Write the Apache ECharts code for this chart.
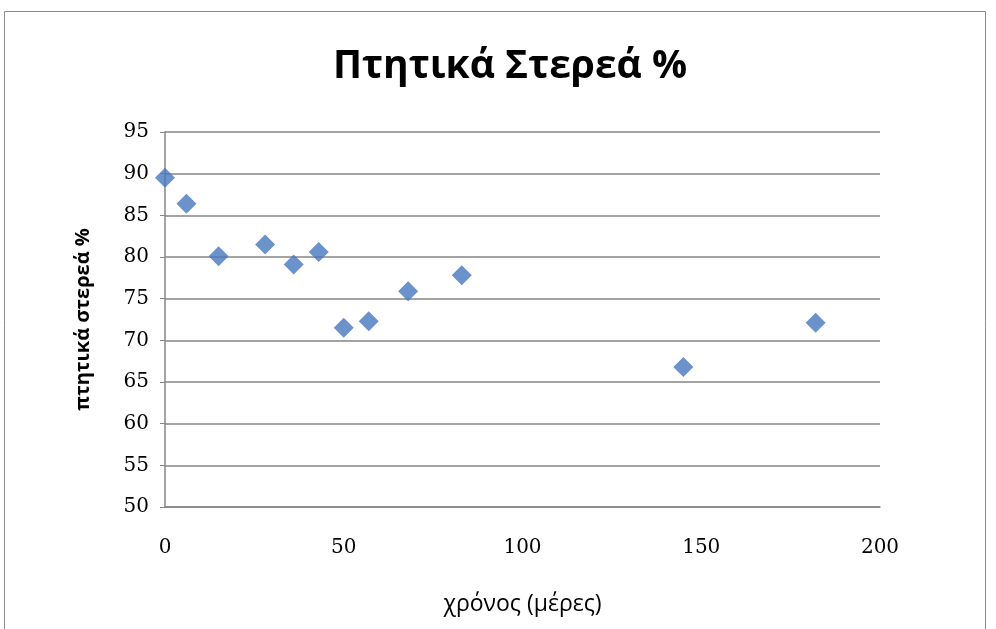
<!DOCTYPE html>
<html>
<head>
<meta charset="utf-8">
<script src="https://cdn.jsdelivr.net/npm/echarts@6/dist/echarts.min.js"></script>
<style>
html,body{margin:0;padding:0;background:#fff;}
#chart{width:996px;height:629px;}
</style>
</head>
<body>
<div id="chart"></div>
<script>
// Data
const days = [0, 6, 15, 28, 36, 43, 50, 57, 68, 83, 145, 182];
const volatileSolids = [89.5, 86.4, 80.1, 81.5, 79.1, 80.6, 71.5, 72.3, 75.9, 77.8, 66.8, 72.1];
const titleText = 'Πτητικά Στερεά %';
const xAxisName = 'χρόνος (μέρες)';
const yAxisName = 'πτητικά στερεά %';

const points = days.map((d, i) => [d, volatileSolids[i]]);

const chart = echarts.init(document.getElementById('chart'));
chart.setOption({
  backgroundColor: '#ffffff',
  animation: false,
  title: {
    text: titleText,
    left: 328,
    top: 42,
    padding: 5,
    textStyle: {
      fontFamily: '"Open Sans", sans-serif',
      fontWeight: 'bold',
      fontSize: 39,
      color: '#000'
    }
  },
  graphic: [{
    type: 'rect',
    shape: { x: 4.5, y: 11.5, width: 981, height: 640 },
    style: { fill: 'none', stroke: '#8c8c8c', lineWidth: 1 },
    silent: true
  }],
  grid: { left: 165, right: 116, top: 132, bottom: 122 },
  xAxis: {
    type: 'value',
    min: 0, max: 200, interval: 50,
    name: xAxisName,
    nameLocation: 'middle',
    nameGap: 86,
    nameTextStyle: { fontFamily: '"Open Sans", sans-serif', fontSize: 23, color: '#000' },
    axisLine: { show: true, lineStyle: { color: '#868686', width: 1.5 } },
    axisTick: { show: false },
    splitLine: { show: false },
    axisLabel: { fontFamily: '"DejaVu Serif", "Liberation Serif", serif', fontSize: 20, color: '#000', margin: 31 }
  },
  yAxis: {
    type: 'value',
    min: 50, max: 95, interval: 5,
    name: yAxisName,
    nameLocation: 'middle',
    nameGap: 72,
    nameTextStyle: { fontFamily: '"Open Sans", sans-serif', fontWeight: 'bold', fontSize: 20, color: '#000' },
    axisLine: { show: true, lineStyle: { color: '#868686', width: 1.5 } },
    axisTick: { show: true, length: 5, inside: false, lineStyle: { color: '#868686' } },
    splitLine: { show: true, lineStyle: { color: '#868686', width: 1.5 } },
    axisLabel: { fontFamily: '"DejaVu Serif", "Liberation Serif", serif', fontSize: 20, color: '#000', margin: 16 }
  },
  series: [{
    type: 'scatter',
    data: points,
    symbol: 'diamond',
    symbolSize: 20,
    itemStyle: { color: '#4677be' }
  }]
});
</script>
</body>
</html>
